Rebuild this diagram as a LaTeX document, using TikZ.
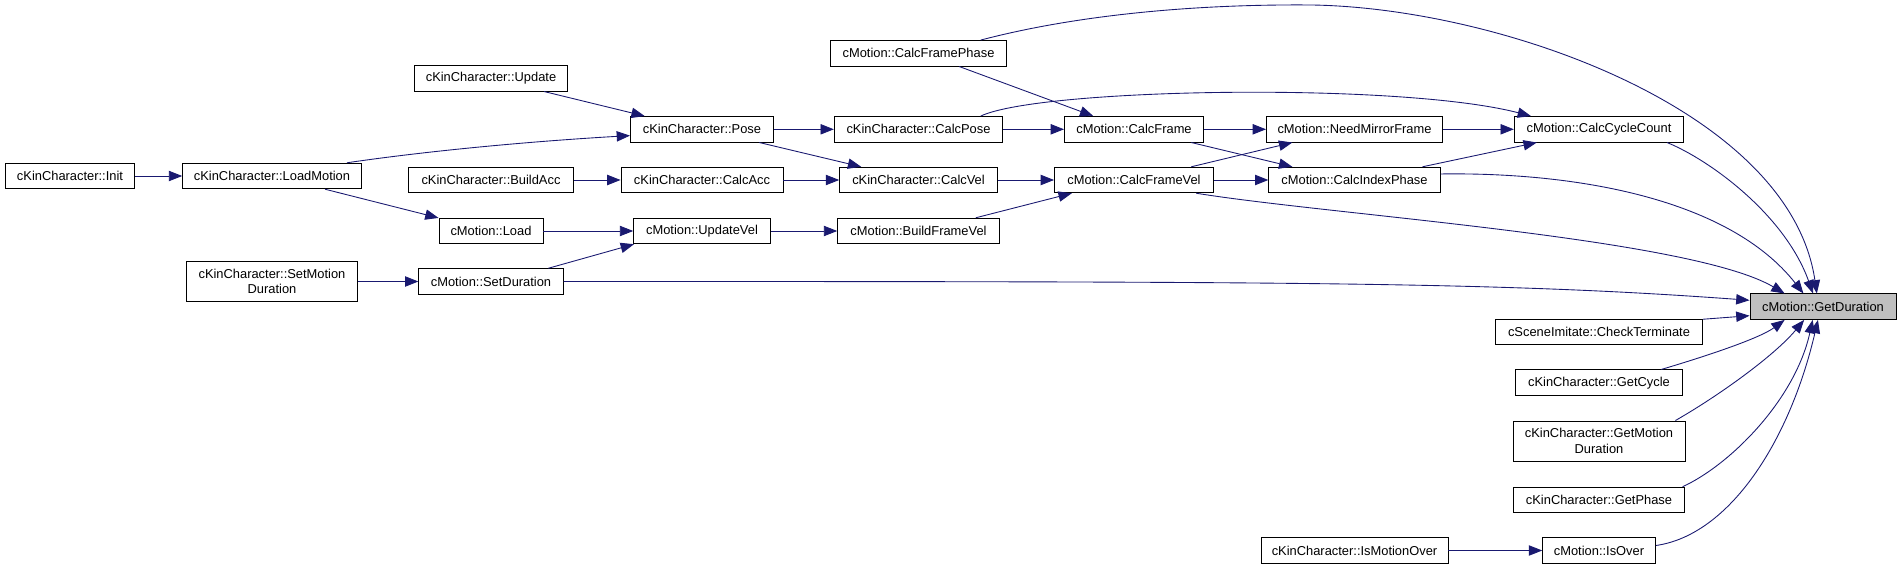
\documentclass[tikz,border=0pt]{standalone}
\usepackage{fontspec}
\setmainfont{Liberation Sans}
\usetikzlibrary{arrows.meta}

\begin{document}
\begin{tikzpicture}[x=0.03cm, y=-0.03cm,
  fn/.style={draw=black, line width=0.8pt, fill=white, inner sep=1pt, minimum height=0.765cm,
             font=\fontsize{11}{13}\selectfont, align=center},
  fncur/.style={fn, fill=black!25},
  call/.style={draw={rgb,255:red,25;green,25;blue,112}, line width=0.75pt,
               -{Triangle[length=0.4cm, width=0.31cm]}}]
  \useasboundingbox (0,0) rectangle (1901,569);
  % callers, left to right
  \node[fn, minimum width=3.89cm] (init) at (70,176) {cKinCharacter::Init};
  \node[fn, minimum width=5.36cm] (loadmotion) at (272,176) {cKinCharacter::LoadMotion};
  \node[fn, minimum width=5.12cm, minimum height=1.19cm] (setmotiondur) at (272,281.5) {cKinCharacter::SetMotion\\Duration};
  \node[fn, minimum width=4.6cm] (update) at (491,78.3) {cKinCharacter::Update};
  \node[fn, minimum width=4.93cm] (buildacc) at (491,180) {cKinCharacter::BuildAcc};
  \node[fn, minimum width=3.12cm] (load) at (491,231) {cMotion::Load};
  \node[fn, minimum width=4.33cm] (setdur) at (491,281.5) {cMotion::SetDuration};
  \node[fn, minimum width=4.29cm] (pose) at (702,129.3) {cKinCharacter::Pose};
  \node[fn, minimum width=4.86cm] (calcacc) at (702,180) {cKinCharacter::CalcAcc};
  \node[fn, minimum width=4.10cm] (updatevel) at (702,231) {cMotion::UpdateVel};
  \node[fn, minimum width=5.29cm] (calcframephase) at (918.5,53.3) {cMotion::CalcFramePhase};
  \node[fn, minimum width=5.05cm] (calcpose) at (918.5,129.3) {cKinCharacter::CalcPose};
  \node[fn, minimum width=4.73cm] (calcvel) at (918.5,180) {cKinCharacter::CalcVel};
  \node[fn, minimum width=4.85cm] (buildframevel) at (918.5,231) {cMotion::BuildFrameVel};
  \node[fn, minimum width=4.17cm] (calcframe) at (1134,129.3) {cMotion::CalcFrame};
  \node[fn, minimum width=4.77cm] (calcframevel) at (1134,180) {cMotion::CalcFrameVel};
  \node[fn, minimum width=5.28cm] (needmirror) at (1354.5,129.3) {cMotion::NeedMirrorFrame};
  \node[fn, minimum width=5.14cm] (calcindex) at (1354.5,180) {cMotion::CalcIndexPhase};
  \node[fn, minimum width=5.61cm] (ismotionover) at (1354.5,550.5) {cKinCharacter::IsMotionOver};
  \node[fn, minimum width=5.08cm] (calccycle) at (1599,129.3) {cMotion::CalcCycleCount};
  \node[fn, minimum width=6.21cm] (checkterm) at (1599,332) {cSceneImitate::CheckTerminate};
  \node[fn, minimum width=5.02cm] (getcycle) at (1599,382.7) {cKinCharacter::GetCycle};
  \node[fn, minimum width=5.16cm, minimum height=1.2cm] (getmotiondur) at (1599,441) {cKinCharacter::GetMotion\\Duration};
  \node[fn, minimum width=5.12cm] (getphase) at (1599,500) {cKinCharacter::GetPhase};
  \node[fn, minimum width=3.38cm] (isover) at (1599,550.5) {cMotion::IsOver};
  \node[fncur, minimum width=4.38cm] (getdur) at (1823,306.7) {cMotion::GetDuration};

  % calls
  \draw[call] (init) -- (loadmotion);
  \draw[call] (loadmotion.10) .. controls (420,152) and (520,142) .. (pose.185);
  \draw[call] (loadmotion.-14) -- (load.166);
  \draw[call] (setmotiondur) -- (setdur);
  \draw[call] (update.-14) -- (pose.167);
  \draw[call] (buildacc) -- (calcacc);
  \draw[call] (load) -- (updatevel);
  \draw[call] (setdur.13) -- (updatevel.191);
  \draw[call] (pose) -- (calcpose);
  \draw[call] (pose.-13) -- (calcvel.167);
  \draw[call] (calcacc) -- (calcvel);
  \draw[call] (updatevel) -- (buildframevel);
  \draw[call] (calcframephase.-18) -- (calcframe.162);
  \draw[call] (calcpose) -- (calcframe);
  \draw[call] (calcvel) -- (calcframevel);
  \draw[call] (buildframevel.13) -- (calcframevel.192);
  \draw[call] (calcframe) -- (needmirror);
  \draw[call] (calcframe.-13) -- (calcindex.168);
  \draw[call] (calcframevel.13) -- (needmirror.192);
  \draw[call] (calcframevel) -- (calcindex);
  \draw[call] (needmirror) -- (calccycle);
  \draw[call] (calcindex.11) -- (calccycle.192);
  \draw[call] (ismotionover) -- (isover);
  \draw[call] (calcpose.12) .. controls (1040,88) and (1400,82) .. (calccycle.169);
  % into GetDuration
  \draw[call] (calcframephase.12) .. controls (1080,14) and (1200,4) .. (1312,5)
    .. controls (1500,8) and (1790,110) .. (getdur.115);
  \draw[call] (calccycle.-11) .. controls (1710,160) and (1785,215) .. (getdur.127);
  \draw[call] (calcindex.4) .. controls (1580,172) and (1730,200) .. (getdur.146);
  \draw[call] (calcframevel.-12) .. controls (1330,215) and (1690,238) .. (getdur.161);
  \draw[call] (setdur) .. controls (1300,281.5) and (1500,282) .. (getdur.175);
  \draw[call] (checkterm.7) -- (getdur.187);
  \draw[call] (getcycle.12) .. controls (1710,355) and (1760,338) .. (getdur.199);
  \draw[call] (getmotiondur.15) .. controls (1720,395) and (1775,355) .. (getdur.215);
  \draw[call] (getphase.9) .. controls (1730,465) and (1795,400) .. (getdur.232);
  \draw[call] (isover.5) .. controls (1730,535) and (1790,440) .. (getdur.249);
\end{tikzpicture}
\end{document}
